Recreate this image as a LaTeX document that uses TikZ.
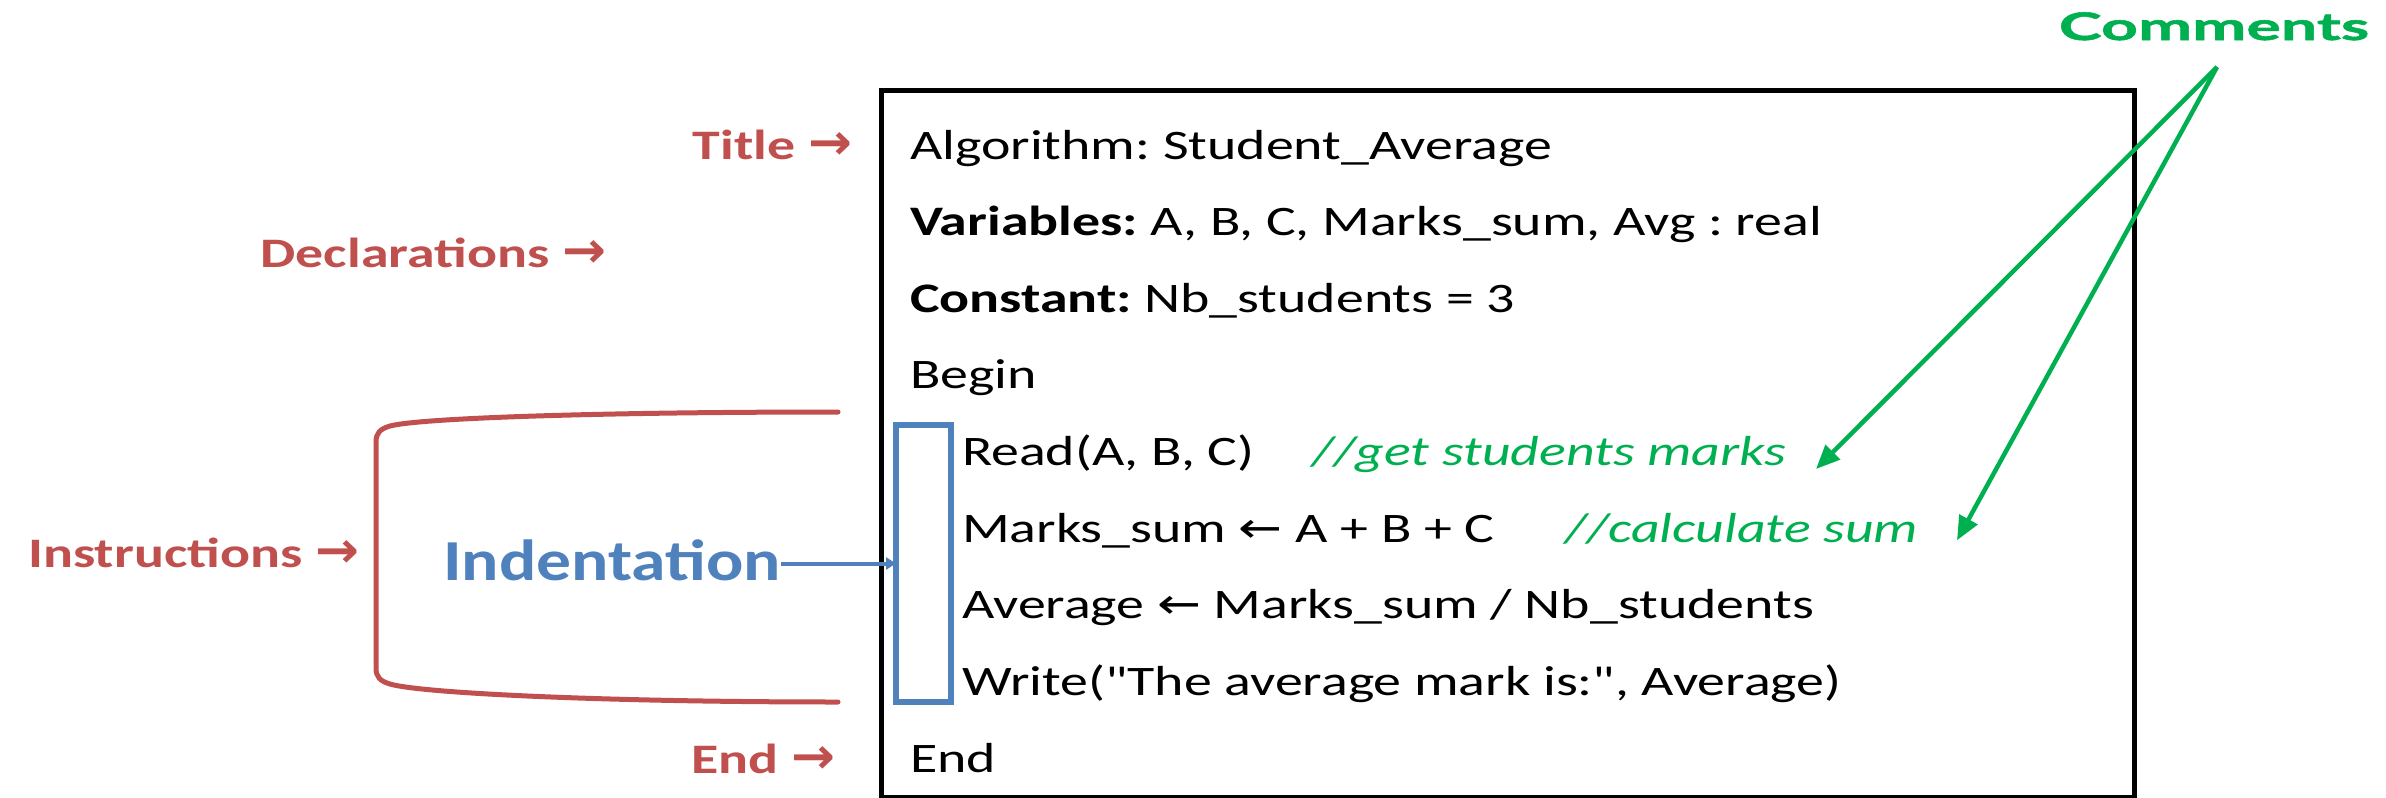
\documentclass[tikz,border=0pt]{standalone}
\usepackage{fontspec}
\setmainfont{Carlito}[FakeStretch=1.33, Ligatures=TeXOff]
\newfontfamily\arrowfont{DejaVu Sans}[FakeStretch=1.25]
\newfontfamily\lblarrowfont{DejaVu Sans}[FakeStretch=1.05]
\newfontfamily\indfont{Carlito}[FakeStretch=1.2]
\newfontfamily\comfont{Lato}[FakeStretch=1.7, FakeBold=1.5]
\usetikzlibrary{arrows.meta}
\definecolor{lblred}{RGB}{192,80,77}
\definecolor{indblue}{RGB}{79,129,189}
\definecolor{cmtgreen}{RGB}{0,176,80}
\newcommand{\myrarr}{{\lblarrowfont\bfseries\fontsize{50}{50}\selectfont →}}
\newcommand{\mylarr}{{\arrowfont ←}}
\frenchspacing
\begin{document}
\begin{tikzpicture}[x=1pt,y=-1pt,
  every node/.style={inner sep=0pt, outer sep=0pt},
  code/.style={anchor=base west, font=\fontsize{42}{46}\selectfont},
  cmt/.style={anchor=base east, text=cmtgreen, font=\fontsize{42}{46}\selectfont\itshape},
  lbl/.style={anchor=base east, text=lblred, font=\fontsize{42}{46}\selectfont\bfseries},
  brk/.style={draw=lblred, line width=5pt, line cap=round},
  garrow/.style={draw=cmtgreen, line width=4.5pt, -{Triangle[length=24pt,width=20pt]}},
  barrow/.style={draw=indblue, line width=4pt, -{Triangle[length=10pt,width=12pt]}}]
\useasboundingbox (0,0) rectangle (2386,798);
% main box
\node[draw=black, line width=5pt, minimum width=1253pt, minimum height=707pt] (box) at (1507.5,443.5) {};
% code lines
\node[code] (l1) at (910,159) {Algorithm: Student\_Average};
\node[code] (l2) at (910,235) {\textbf{Variables:} A, B, C, Marks\_sum, Avg : real};
\node[code] (l3) at (910,312) {\textbf{Constant:} Nb\_students = 3};
\node[code] (l4) at (910,388) {Begin};
\node[code] (l5) at (962,465) {Read(A, B, C)};
\node[cmt] (c1) at (1786,465) {//get students marks};
\node[code] (l6) at (962,542) {Marks\_sum \mylarr{} A + B + C};
\node[cmt] (c2) at (1918,542) {//calculate sum};
\node[code] (l7) at (962,618) {Average \mylarr{} Marks\_sum / Nb\_students};
\node[code] (l8) at (962,695) {Write("The average mark is:", Average)};
\node[code] (l9) at (910,772) {End};
% labels
\node[lbl] (title) at (852,159) {Title \myrarr};
\node[lbl] (decl) at (606,267) {Declarations \myrarr};
\node[lbl] (instr) at (359,567) {Instructions \myrarr};
\node[lbl] (endl) at (835,773) {End \myrarr};
% bracket
\coordinate (bt) at (838,412);
\coordinate (bb) at (838,702);
\draw[brk] (bt) .. controls (600,412) and (420,418) .. (390,426) .. controls (380,429) and (376,433) .. (376,442) -- (376,668) .. controls (376,677) and (380,681) .. (390,684) .. controls (420,693) and (600,702) .. (bb);
% indentation
\node[draw=indblue, line width=6pt, minimum width=55pt, minimum height=277pt] (ind) at (923.5,563.5) {};
\node[anchor=base east, text=indblue, font=\fontsize{58}{62}\selectfont\indfont\bfseries] (indt) at (781,580) {Indentation};
\draw[barrow] (ind.west -| indt.east) -- (ind.west);
% comments
\node[anchor=base, text=cmtgreen, font=\fontsize{38}{42}\selectfont\comfont\bfseries] (cm) at (2214,40) {Comments};
\coordinate (cmp) at (2217,67);
\draw[garrow] (cmp) -- ([xshift=30pt,yshift=-15pt]c1.east);
\draw[garrow] (cmp) -- ([xshift=39pt,yshift=-12pt]c2.east);
\end{tikzpicture}
\end{document}
